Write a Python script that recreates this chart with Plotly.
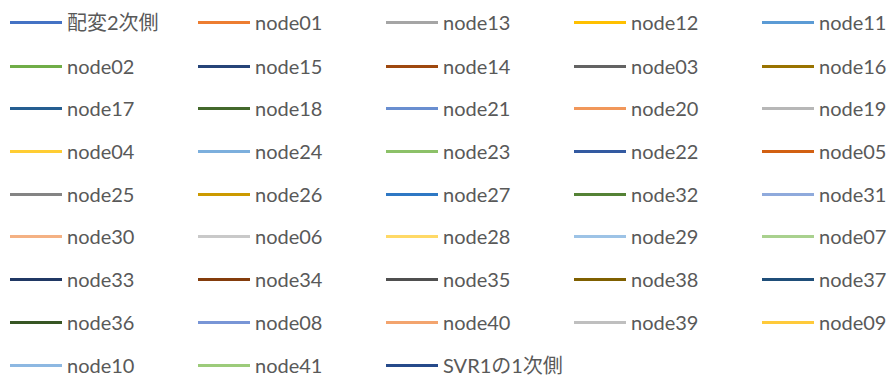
import plotly.graph_objects as go

names = ["配変2次側", "node01", "node13", "node12", "node11",
         "node02", "node15", "node14", "node03", "node16",
         "node17", "node18", "node21", "node20", "node19",
         "node04", "node24", "node23", "node22", "node05",
         "node25", "node26", "node27", "node32", "node31",
         "node30", "node06", "node28", "node29", "node07",
         "node33", "node34", "node35", "node38", "node37",
         "node36", "node08", "node40", "node39", "node09",
         "node10", "node41", "SVR1の1次側"]

colors = ["#4472C4", "#ED7D31", "#A5A5A5", "#FFC000", "#5B9BD5",
          "#70AD47", "#264478", "#9E480E", "#636363", "#997300",
          "#255E91", "#43682B", "#698ED0", "#F1975A", "#B7B7B7",
          "#FFCD33", "#7CAFDD", "#8CC168", "#335AA1", "#D26012",
          "#848484", "#CC9A00", "#2E78C4", "#548235", "#8FAADC",
          "#F4B183", "#C9C9C9", "#FFD966", "#9DC3E6", "#A9D18E",
          "#203864", "#843C0C", "#4F4F4F", "#7F6000", "#1F4E79",
          "#375623", "#7895D6", "#F3A46E", "#BFBFBF", "#FFCA3A",
          "#8DB8E2", "#9CCB7A", "#264A8A"]

row_y = [23, 67, 109, 152, 195, 237, 280, 323, 366]
n_cols = 5
col_x0 = 10
col_step = 188
W, H = 888, 376
y_shift = 0.5

fig = go.Figure()
layout = dict(width=W, height=H,
              margin=dict(l=0, r=0, t=0, b=0, autoexpand=False),
              paper_bgcolor="white", plot_bgcolor="white",
              xaxis=dict(visible=False, range=[0, 1]),
              yaxis=dict(visible=False, range=[0, 1]))
for i, (n, c) in enumerate(zip(names, colors)):
    col, row = i % n_cols, i // n_cols
    lid = "legend" if i == 0 else f"legend{i + 1}"
    fig.add_trace(go.Scatter(x=[None], y=[None], mode="lines", name=n,
                             line=dict(color=c, width=3), legend=lid,
                             showlegend=True))
    layout[lid] = dict(orientation="v",
                       x=(col_x0 + col * col_step - 2) / W, xref="container",
                       xanchor="left",
                       y=1 - (row_y[row] - y_shift) / H, yref="container",
                       yanchor="middle",
                       itemwidth=52, indentation=-3,
                       bgcolor="rgba(0,0,0,0)", borderwidth=0,
                       font=dict(family="Lato, 'Noto Sans CJK JP', sans-serif",
                                 size=20, color="#595959"))
fig.update_layout(**layout)
fig.write_html("out.html",
               config={"displayModeBar": False},
               post_script="document.body.style.margin='0';"
                           "document.body.style.overflow='hidden';")
